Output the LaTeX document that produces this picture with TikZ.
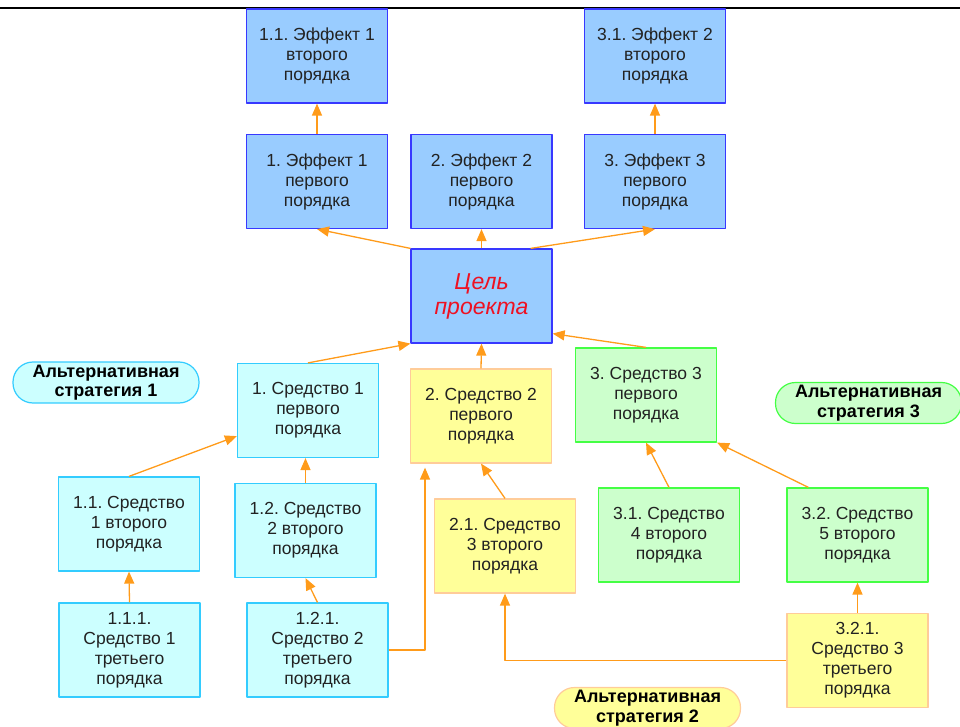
\documentclass[tikz,border=0pt]{standalone}
\usepackage{fontspec}
\setmainfont{Liberation Sans}
\usetikzlibrary{arrows.meta}
\frenchspacing
\definecolor{effblue}{HTML}{99CCFF}
\definecolor{effline}{HTML}{3838FF}
\definecolor{cyanfill}{HTML}{CCFFFF}
\definecolor{cyanline}{HTML}{33CCFF}
\definecolor{yelfill}{HTML}{FFFF99}
\definecolor{yelline}{HTML}{FFCC99}
\definecolor{grnfill}{HTML}{CCFFCC}
\definecolor{grnline}{HTML}{44FF44}
\definecolor{arrorange}{HTML}{FF9B1A}
\definecolor{txtgray}{HTML}{222222}
\definecolor{goalred}{HTML}{EE1122}
\begin{document}
\begin{tikzpicture}[x=1pt, y=-1pt, line join=round,
  cell/.style={draw, line width=1.2pt, minimum width=141pt, minimum height=94pt,
    align=center, inner sep=0pt, text=txtgray, font=\fontsize{17.5}{20}\selectfont},
  effbox/.style={cell, fill=effblue, draw=effline},
  cyanbox/.style={cell, fill=cyanfill, draw=cyanline},
  yelbox/.style={cell, fill=yelfill, draw=yelline},
  grnbox/.style={cell, fill=grnfill, draw=grnline},
  altbox/.style={draw, line width=1.2pt, rounded corners=20pt, minimum width=186pt,
    minimum height=41pt, align=center, inner sep=0pt, font=\bfseries\fontsize{18}{19.5}\selectfont},
  arr/.style={draw=arrorange, line width=1.3pt, -{Triangle[length=12pt,width=10pt]}}]
  \useasboundingbox (0,0) rectangle (960,727);
  \clip (0,0) rectangle (960,727);
  % верхняя линия
  \draw[line width=1.5pt] (0,8) -- (960,8);
  % эффекты
  \node[effbox] (e11) at (317,56) {1.1. Эффект 1\\второго\\порядка};
  \node[effbox] (e31) at (655,56) {3.1. Эффект 2\\второго\\порядка};
  \node[effbox] (e1) at (317,181.5) {1. Эффект 1\\первого\\порядка};
  \node[effbox] (e2) at (481.5,181.5) {2. Эффект 2\\первого\\порядка};
  \node[effbox] (e3) at (655,181.5) {3. Эффект 3\\первого\\порядка};
  % цель
  \node[effbox, text=goalred, font=\itshape\fontsize{23}{25}\selectfont] (goal) at (481.5,296) {Цель\\проекта};
  % средства
  \node[cyanbox] (m1) at (308,410.5) {1. Средство 1\\первого\\порядка};
  \node[cyanbox] (m11) at (129,524) {1.1. Средство\\1 второго\\порядка};
  \node[cyanbox] (m12) at (305.5,530.5) {1.2. Средство\\2 второго\\порядка};
  \node[cyanbox] (m111) at (129.5,650) {1.1.1.\\Средство 1\\третьего\\порядка};
  \node[cyanbox] (m121) at (317.5,650) {1.2.1.\\Средство 2\\третьего\\порядка};
  \node[yelbox] (m2) at (481,416) {2. Средство 2\\первого\\порядка};
  \node[yelbox] (m21) at (505,546) {2.1. Средство\\3 второго\\порядка};
  \node[yelbox] (m321) at (857.5,660.5) {3.2.1.\\Средство 3\\третьего\\порядка};
  \node[grnbox] (m3) at (646,395) {3. Средство 3\\первого\\порядка};
  \node[grnbox] (m31) at (669,535) {3.1. Средство\\4 второго\\порядка};
  \node[grnbox] (m32) at (857.5,535) {3.2. Средство\\5 второго\\порядка};
  % стратегии
  \node[altbox, fill=cyanfill, draw=cyanline] (alt1) at (106,382.5) {Альтернативная\\стратегия 1};
  \node[altbox, fill=yelfill, draw=yelline] (alt2) at (647.5,708) {Альтернативная\\стратегия 2};
  \node[altbox, fill=grnfill, draw=grnline] (alt3) at (868.5,403) {Альтернативная\\стратегия 3};
  % стрелки
  \draw[arr] (e1.north) -- (e11.south);
  \draw[arr] (e3.north) -- (e31.south);
  \draw[arr] (goal.north) -- (e2.south);
  \draw[arr] (goal.north west) -- (e1.south);
  \draw[arr] ([xshift=-22pt]goal.north east) -- (e3.south);
  \draw[arr] (m1.north) -- (goal.south west);
  \draw[arr] (m2.north) -- (goal.south);
  \draw[arr] (m3.north) -- ([yshift=10pt]goal.south east);
  \draw[arr] (m11.north) -- ([yshift=22pt]m1.south west);
  \draw[arr] (m12.north) -- (m12.north |- m1.south);
  \draw[arr] (m111.north) -- (m11.south);
  \draw[arr] (m121.north) -- (m12.south);
  \draw[arr, shorten >=4pt] (m121.east) -| ([xshift=-56pt]m2.south);
  \draw[arr] (m21.north) -- (m2.south);
  \draw[arr] (m321.west) -| (m21.south);
  \draw[arr] (m321.north) -- (m32.south);
  \draw[arr] (m31.north) -- (m3.south);
  \draw[arr] ([xshift=22pt]m32.north west) -- (m3.south east);
\end{tikzpicture}
\end{document}
